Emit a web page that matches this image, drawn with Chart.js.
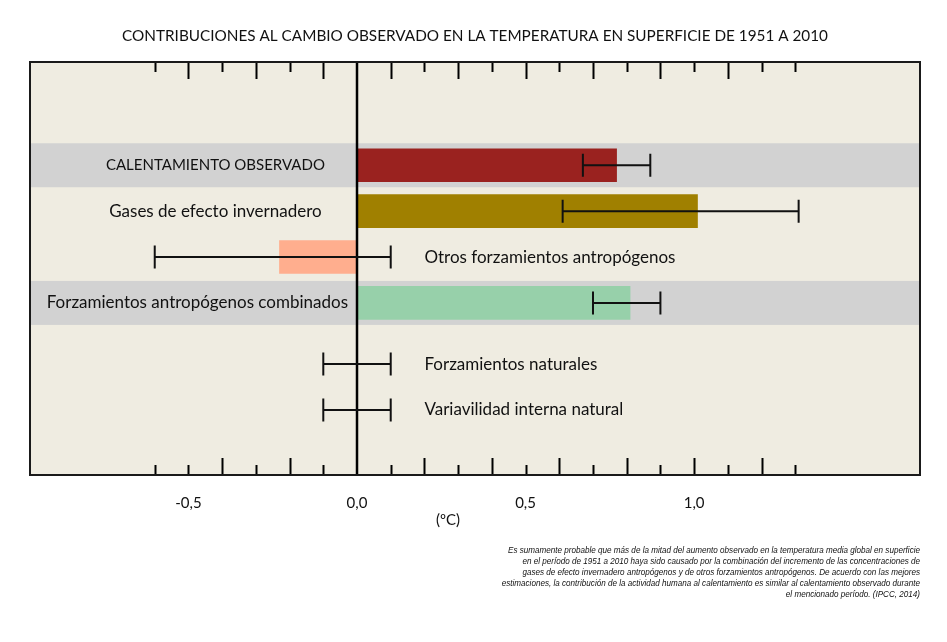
<!DOCTYPE html>
<html>
<head>
<meta charset="utf-8">
<script src="https://cdn.jsdelivr.net/npm/chart.js@4/dist/chart.umd.min.js"></script>
<style>
  body { margin: 0; background: #fff; }
</style>
</head>
<body>
<canvas id="myChart" width="947" height="642"></canvas>
<script>
const categories = [
  'CALENTAMIENTO OBSERVADO',
  'Gases de efecto invernadero',
  'Otros forzamientos antropógenos',
  'Forzamientos antropógenos combinados',
  'Forzamientos naturales',
  'Variavilidad interna natural'
];
const bestEstimate = [0.77, 1.01, -0.23, 0.81, 0, 0];
const rangeLow = [0.67, 0.61, -0.6, 0.7, -0.1, -0.1];
const rangeHigh = [0.87, 1.31, 0.1, 0.9, 0.1, 0.1];
const barColors = ['#9a221f', '#a08000', '#ffae8e', '#97d0aa', '#97d0aa', '#97d0aa'];

const tickValues = [-0.5, 0, 0.5, 1.0];
const tickLabels = ['-0,5', '0,0', '0,5', '1,0'];
const minorTicks = [-0.6, -0.5, -0.4, -0.3, -0.2, -0.1, 0.1, 0.2, 0.3, 0.4, 0.5, 0.6, 0.7, 0.8, 0.9, 1.0, 1.1, 1.2, 1.3];
const topLong = [-0.5, -0.3, -0.1, 0.1, 0.3, 0.5, 0.7, 0.9, 1.1];
const bottomLong = [-0.4, -0.2, 0.2, 0.4, 0.6, 0.8, 1.0, 1.2];

const titleText = 'CONTRIBUCIONES AL CAMBIO OBSERVADO EN LA TEMPERATURA EN SUPERFICIE DE 1951 A 2010';
const unitText = '(ºC)';
const footnote = [
  'Es sumamente probable que más de la mitad del aumento observado en la temperatura media global en superficie',
  'en el período de 1951 a 2010 haya sido causado por la combinación del incremento de las concentraciones de',
  'gases de efecto invernadero antropógenos y de otros forzamientos antropógenos. De acuerdo con las mejores',
  'estimaciones, la contribución de la actividad humana al calentamiento es similar al calentamiento observado durante',
  'el mencionado período. (IPCC, 2014)'
];

// layout: which rows get a grey band, where each name goes, and the row slots on the y axis
const bandRows = [0, 3];
const labelSide = ['left', 'left', 'right', 'left', 'right', 'right'];
const rowSlots = [13, 19, 25, 31, 39, 45];
const slotCount = 54;

const yLabels = [];
for (let i = 0; i < slotCount; i++) {
  const r = rowSlots.indexOf(i);
  yLabels.push(r >= 0 ? categories[r] : '_' + i);
}

const FONT = '"Lato", "Open Sans", sans-serif';

const decor = {
  id: 'decor',
  beforeDatasetsDraw(chart) {
    const { ctx, chartArea: a, scales: { y } } = chart;
    ctx.save();
    ctx.fillStyle = '#efece1';
    ctx.fillRect(a.left, a.top, a.right - a.left, a.bottom - a.top);
    ctx.fillStyle = '#d2d2d2';
    bandRows.forEach(r => {
      const cy = y.getPixelForValue(rowSlots[r]);
      ctx.fillRect(a.left, cy - 22, a.right - a.left, 44);
    });
    ctx.restore();
  },
  afterDatasetsDraw(chart) {
    const { ctx, chartArea: a, scales: { x, y } } = chart;
    const x0 = x.getPixelForValue(0);
    ctx.save();

    // zero line
    ctx.strokeStyle = '#000';
    ctx.lineWidth = 2.5;
    ctx.beginPath();
    ctx.moveTo(x0, a.top);
    ctx.lineTo(x0, a.bottom);
    ctx.stroke();

    // error bars
    ctx.lineWidth = 2;
    ctx.strokeStyle = '#111';
    categories.forEach((c, i) => {
      const cy = y.getPixelForValue(rowSlots[i]);
      const xl = x.getPixelForValue(rangeLow[i]);
      const xh = x.getPixelForValue(rangeHigh[i]);
      ctx.beginPath();
      ctx.moveTo(xl, cy); ctx.lineTo(xh, cy);
      ctx.moveTo(xl, cy - 11.5); ctx.lineTo(xl, cy + 11.5);
      ctx.moveTo(xh, cy - 11.5); ctx.lineTo(xh, cy + 11.5);
      ctx.stroke();
    });

    // tick marks
    ctx.lineWidth = 2;
    ctx.strokeStyle = '#000';
    minorTicks.forEach(v => {
      const px = Math.round(x.getPixelForValue(v)) + 0.5;
      const lt = topLong.some(t => Math.abs(t - v) < 1e-6) ? 17 : 10;
      const lb = bottomLong.some(t => Math.abs(t - v) < 1e-6) ? 17 : 10;
      ctx.beginPath();
      ctx.moveTo(px, a.top); ctx.lineTo(px, a.top + lt);
      ctx.moveTo(px, a.bottom); ctx.lineTo(px, a.bottom - lb);
      ctx.stroke();
    });

    // frame
    ctx.strokeStyle = '#1a1a1a';
    ctx.lineWidth = 2;
    ctx.strokeRect(a.left, a.top, a.right - a.left, a.bottom - a.top);

    // row names
    ctx.fillStyle = '#111';
    ctx.textBaseline = 'middle';
    categories.forEach((c, i) => {
      const cy = y.getPixelForValue(rowSlots[i]);
      // capitals in Lato run wide, so the all-caps name gets a smaller size
      ctx.font = (c === c.toUpperCase() ? '15px ' : '17px ') + FONT;
      if (labelSide[i] === 'left') {
        const w = ctx.measureText(c).width;
        let cx = x.getPixelForValue(-0.42);
        if (cx + w / 2 > x0 - 9) cx = x0 - 9 - w / 2;
        ctx.textAlign = 'center';
        ctx.fillText(c, cx, cy);
      } else {
        ctx.textAlign = 'left';
        ctx.fillText(c, x.getPixelForValue(0.2), cy);
      }
    });

    // axis numbers and unit
    ctx.textAlign = 'center';
    ctx.font = '15px ' + FONT;
    tickValues.forEach((v, i) => {
      ctx.fillText(tickLabels[i], x.getPixelForValue(v), a.bottom + 28);
    });
    ctx.fillText(unitText, x.getPixelForValue(0.27), a.bottom + 45);

    // title
    ctx.font = '15.3px ' + FONT;
    ctx.fillText(titleText, (a.left + a.right) / 2, 36);

    // footnote, squeezed a little like a narrow face
    ctx.textAlign = 'right';
    ctx.font = 'italic 9px "Liberation Sans", Arial, sans-serif';
    footnote.forEach((line, i) => {
      ctx.save();
      ctx.translate(920, 550 + i * 11);
      ctx.scale(0.9, 1);
      ctx.fillText(line, 0, 0);
      ctx.restore();
    });
    ctx.restore();
  }
};

const data = {
  labels: yLabels,
  datasets: [{
    label: 'Contribuciones',
    data: categories.map((c, i) => ({ x: bestEstimate[i], y: c })),
    backgroundColor: barColors,
    borderWidth: 0,
    barThickness: 33
  }]
};

const config = {
  type: 'bar',
  data: data,
  options: {
    indexAxis: 'y',
    responsive: false,
    animation: false,
    layout: {
      padding: { left: 30, right: 27, top: 62, bottom: 167 }
    },
    scales: {
      x: { type: 'linear', min: -0.97, max: 1.67, display: false },
      y: { type: 'category', display: false, offset: true }
    },
    plugins: {
      legend: { display: false },
      tooltip: { enabled: false }
    }
  },
  plugins: [decor]
};

new Chart(document.getElementById('myChart'), config);
</script>
</body>
</html>
